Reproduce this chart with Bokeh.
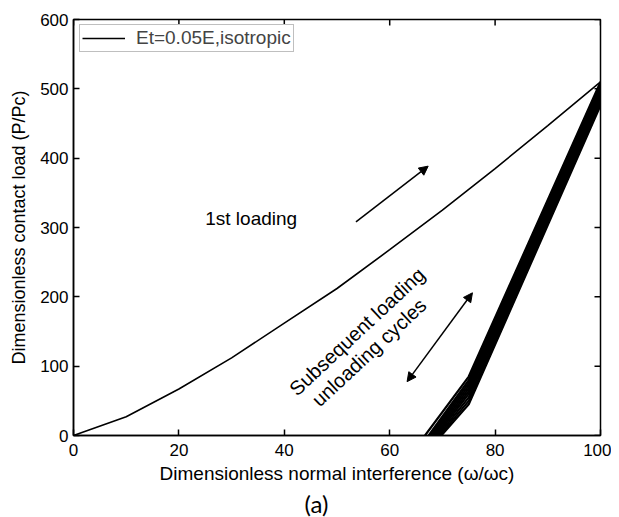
import math
from bokeh.plotting import figure
from bokeh.models import (Range1d, FixedTicker, Legend, LegendItem,
                          Arrow, NormalHead, Label, Title)
from bokeh.embed import file_html
from bokeh.resources import INLINE

# ---- data ----
loading_x = [0, 10, 20, 30, 40, 50, 60, 70, 80, 90, 100]
loading_y = [0, 27, 67, 112, 162, 212, 268, 325, 385, 447, 510]

cycle_x0 = [66.7, 67.4, 67.7, 68.0, 68.3, 68.6, 68.9, 69.2, 69.5, 69.8]
cycle_x_mid = 75
cycle_y_mid = [85, 80, 76, 72, 68, 64, 60, 55, 50, 45]
cycle_x_end = 100
cycle_y_end = [510, 506, 502, 499, 495, 492, 488, 484, 480, 476]

x_ticks = [0, 20, 40, 60, 80, 100]
y_ticks = [0, 100, 200, 300, 400, 500, 600]
x_min, x_max = 0, 100
y_min, y_max = 0, 600

FONT = "Liberation Sans"

p = figure(width=611, height=517, output_backend="svg", toolbar_location=None,
           x_range=Range1d(x_min, x_max), y_range=Range1d(y_min, y_max),
           min_border_left=73, min_border_right=11, min_border_top=19,
           min_border_bottom=81)
p.grid.visible = False
p.outline_line_color = "black"
p.outline_line_width = 1.5
p.background_fill_color = "white"
p.border_fill_color = "white"

for ax, ticks in ((p.xaxis[0], x_ticks), (p.yaxis[0], y_ticks)):
    ax.ticker = FixedTicker(ticks=ticks)
    ax.minor_tick_line_color = None
    ax.major_tick_in = 6
    ax.major_tick_out = 0
    ax.major_tick_line_width = 1.5
    ax.axis_line_width = 1.5
    ax.major_label_text_font = FONT
    ax.major_label_text_font_size = "17px"
    ax.major_label_text_color = "black"
    ax.axis_label_text_font = FONT
    ax.axis_label_text_font_style = "normal"
    ax.axis_label_text_color = "black"

p.xaxis.axis_label = "Dimensionless normal interference (\u03c9/\u03c9c)"
p.xaxis.axis_label_text_font_size = "19px"
p.xaxis.major_label_standoff = 8
p.xaxis.axis_label_standoff = 4
p.yaxis.axis_label = "Dimensionless contact load (P/Pc)"
p.yaxis.axis_label_text_font_size = "18px"
p.yaxis.major_label_standoff = 5
p.yaxis.axis_label_standoff = 8

# mirrored inward ticks on the top and right edges of the box
p.ray(x=x_ticks, y=[y_max] * len(x_ticks), length=6, length_units="screen",
      angle=-math.pi / 2, line_color="black", line_width=1.5)
p.ray(x=[x_max] * len(y_ticks), y=y_ticks, length=6, length_units="screen",
      angle=math.pi, line_color="black", line_width=1.5)

# first loading curve
r_load = p.line(loading_x, loading_y, line_color="black", line_width=1.6)

# subsequent loading / unloading cycles
for x0, ym, ye in zip(cycle_x0, cycle_y_mid, cycle_y_end):
    p.line([x0, cycle_x_mid, cycle_x_end], [0, ym, ye],
           line_color="black", line_width=2.2)

# annotations
p.add_layout(Label(x=25, y=298, text="1st loading", text_font=FONT,
                   text_font_size="19px", text_color="black"))
p.add_layout(Arrow(x_start=53.6, y_start=308, x_end=67.3, y_end=388.5,
                   line_width=1.5, line_color="black",
                   end=NormalHead(size=9, fill_color="black", line_color="black")))
p.add_layout(Arrow(x_start=63.3, y_start=77.7, x_end=75.7, y_end=205.8,
                   line_width=1.5, line_color="black",
                   start=NormalHead(size=9, fill_color="black", line_color="black"),
                   end=NormalHead(size=9, fill_color="black", line_color="black")))
ang = math.radians(43)
p.add_layout(Label(x=53.8, y=150, text="Subsequent loading", angle=ang,
                   text_align="center", text_baseline="alphabetic",
                   text_font=FONT, text_font_size="20px", text_color="black"))
p.add_layout(Label(x=56.1, y=120, text="unloading cycles", angle=ang,
                   text_align="center", text_baseline="alphabetic",
                   text_font=FONT, text_font_size="20px", text_color="black"))

# panel tag below the axis title
p.add_layout(Title(text="(a)", align="left", offset=231, standoff=0,
                   text_font="Lato", text_font_size="24px",
                   text_font_style="normal", text_color="black"), "below")

legend = Legend(items=[LegendItem(label="Et=0.05E,isotropic", renderers=[r_load])],
                location=(6, 383), padding=2, margin=0, spacing=0,
                glyph_width=43, glyph_height=20, label_height=20, label_standoff=11,
                label_text_font=FONT, label_text_font_size="19px",
                border_line_color="#808080", border_line_width=1,
                background_fill_color="white", background_fill_alpha=1)
p.add_layout(legend)

open("out.html", "w").write(file_html(p, INLINE))
